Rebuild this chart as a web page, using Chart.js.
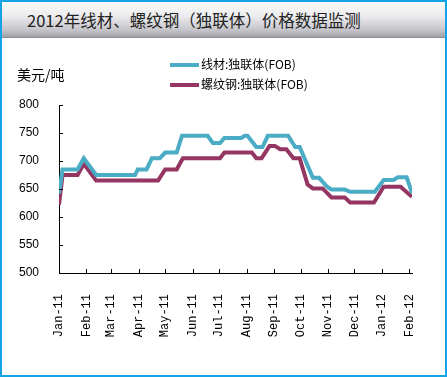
<!DOCTYPE html>
<html lang="zh">
<head>
<meta charset="UTF-8">
<title>2012年线材、螺纹钢（独联体）价格数据监测</title>
<style>
body { margin: 0; background: #fff; }
#page { position: relative; width: 447px; height: 377px; overflow: hidden; font-family: 'Noto Sans CJK SC', sans-serif; }
#titlebar { position: absolute; left: 2px; top: 2px; width: 443px; height: 35px;
  background: linear-gradient(to bottom, #fbfbfb 0%, #ececee 40%, #c4c4ca 80%, #a2a2aa 100%);
  border-bottom: 1px solid #8c8c94; }
#titlebar span { position: absolute; left: 25px; top: 8px; font-size: 16.5px; line-height: 20px; color: #222; white-space: nowrap; }
#unit { position: absolute; left: 17px; top: 65px; font-size: 14px; line-height: 18px; color: #000; }
#legend { position: absolute; left: 170px; top: 56px; font-size: 12px; color: #000; }
#legend div { height: 20px; line-height: 16px; white-space: nowrap; }
#legend i { display: inline-block; width: 29px; height: 4px; vertical-align: middle; margin-right: 2px; position: relative; top: -1px; }
#chart { position: absolute; left: 0; top: 0; }
#frame { position: absolute; left: 0; top: 0; width: 447px; height: 377px; box-sizing: border-box; border: 2px solid #14a4e6; pointer-events: none; }
</style>
</head>
<body>
<div id="page">
  <div id="titlebar"><span>2012年线材、螺纹钢（独联体）价格数据监测</span></div>
  <canvas id="chart" width="447" height="377"></canvas>
  <div id="unit">美元/吨</div>
  <div id="legend">
    <div><i style="background:#4bacc6"></i>线材:独联体(FOB)</div>
    <div><i style="background:#953562"></i>螺纹钢:独联体(FOB)</div>
  </div>
  <div id="frame"></div>
</div>

<script src="https://cdn.jsdelivr.net/npm/chart.js"></script>
<script>
// month ticks on the x axis
const monthDates = ['2011-01-01','2011-02-01','2011-03-01','2011-04-01','2011-05-01','2011-06-01','2011-07-01',
  '2011-08-01','2011-09-01','2011-10-01','2011-11-01','2011-12-01','2012-01-01','2012-02-01'];
const monthLabels = ['Jan-11','Feb-11','Mar-11','Apr-11','May-11','Jun-11','Jul-11',
  'Aug-11','Sep-11','Oct-11','Nov-11','Dec-11','Jan-12','Feb-12'];
const yTicks = [500, 550, 600, 650, 700, 750, 800];

// 线材:独联体(FOB)
const wireDates = ['2011-01-01','2011-01-05','2011-01-22','2011-01-29','2011-02-12','2011-03-28','2011-03-31',
  '2011-04-10','2011-04-16','2011-04-25','2011-05-01','2011-05-14','2011-05-20','2011-06-18','2011-06-24',
  '2011-07-02','2011-07-07','2011-07-26','2011-07-30','2011-08-02','2011-08-12','2011-08-19','2011-08-25',
  '2011-09-17','2011-09-25','2011-09-30','2011-10-15','2011-10-22','2011-10-31','2011-11-05','2011-11-20',
  '2011-11-26','2011-12-24','2012-01-03','2012-01-14','2012-01-19','2012-01-29','2012-02-04'];
const wirePrices = [642, 685, 685, 705, 675, 675, 685,
  685, 705, 705, 715, 715, 745, 745, 732,
  732, 741, 741, 745, 745, 725, 725, 745,
  745, 725, 725, 670, 670, 654, 649, 649,
  645, 645, 666, 666, 671, 671, 643];

// 螺纹钢:独联体(FOB)
const rebarDates = ['2011-01-01','2011-01-05','2011-01-22','2011-01-29','2011-02-12','2011-04-23','2011-05-01',
  '2011-05-14','2011-05-21','2011-07-02','2011-07-07','2011-08-07','2011-08-12','2011-08-18','2011-08-27',
  '2011-09-02','2011-09-08','2011-09-15','2011-09-23','2011-09-30','2011-10-09','2011-10-15','2011-10-26',
  '2011-11-05','2011-11-20','2011-11-26','2011-12-23','2012-01-03','2012-01-22','2012-02-04'];
const rebarPrices = [622, 675, 675, 695, 665, 665, 685,
  685, 705, 705, 715, 715, 705, 705, 727,
  727, 721, 721, 705, 705, 658, 651, 651,
  635, 635, 626, 626, 654, 654, 636];

const startMs = Date.UTC(2011, 0, 1);
function dayOf(s) {
  const p = s.split('-').map(Number);
  return (Date.UTC(p[0], p[1] - 1, p[2]) - startMs) / 86400000;
}
const monthDays = monthDates.map(dayOf);
const toPoints = (dates, vals) => dates.map((d, i) => ({ x: dayOf(d), y: vals[i] }));

// small tick marks pointing into the plot
const innerTicks = {
  id: 'innerTicks',
  afterDraw(chart) {
    const ctx = chart.ctx, a = chart.chartArea;
    const xs = chart.scales.x, ys = chart.scales.y;
    ctx.save();
    ctx.strokeStyle = '#000';
    ctx.lineWidth = 1;
    ctx.beginPath();
    ys.ticks.forEach((t, i) => {
      const y = Math.round(ys.getPixelForTick(i)) + 0.5;
      ctx.moveTo(a.left, y); ctx.lineTo(a.left + 4, y);
    });
    xs.ticks.forEach((t, i) => {
      const x = Math.round(xs.getPixelForTick(i)) + 0.5;
      ctx.moveTo(x, a.bottom); ctx.lineTo(x, a.bottom - 4);
    });
    ctx.stroke();
    ctx.restore();
  }
};

new Chart(document.getElementById('chart'), {
  type: 'line',
  data: {
    datasets: [
      { label: '线材:独联体(FOB)', data: toPoints(wireDates, wirePrices), borderColor: '#4bacc6',
        borderWidth: 4, pointRadius: 0, tension: 0, fill: false },
      { label: '螺纹钢:独联体(FOB)', data: toPoints(rebarDates, rebarPrices), borderColor: '#953562',
        borderWidth: 4, pointRadius: 0, tension: 0, fill: false }
    ]
  },
  options: {
    responsive: false,
    animation: false,
    devicePixelRatio: 1,
    layout: { padding: { left: 0, top: 105, right: 35, bottom: 0 } },
    plugins: { legend: { display: false }, tooltip: { enabled: false } },
    scales: {
      x: {
        type: 'linear',
        min: 0,
        max: dayOf('2012-02-04'),
        afterBuildTicks: s => { s.ticks = monthDays.map(v => ({ value: v })); },
        afterFit: s => { s.height = 104; },
        grid: { display: false },
        border: { display: true, color: '#000', width: 1 },
        ticks: {
          autoSkip: false,
          minRotation: 90,
          maxRotation: 90,
          padding: 13,
          color: '#000',
          font: { family: 'Liberation Mono', size: 12 },
          callback: v => monthLabels[monthDays.indexOf(v)]
        }
      },
      y: {
        min: 500,
        max: 800,
        afterBuildTicks: s => { s.ticks = yTicks.map(v => ({ value: v })); },
        afterFit: s => { s.width = 59; },
        grid: { display: false },
        border: { display: true, color: '#000', width: 1 },
        ticks: {
          padding: 12,
          color: '#000',
          font: { family: 'Liberation Sans', size: 12 }
        }
      }
    }
  },
  plugins: [innerTicks]
});
</script>
</body>
</html>
